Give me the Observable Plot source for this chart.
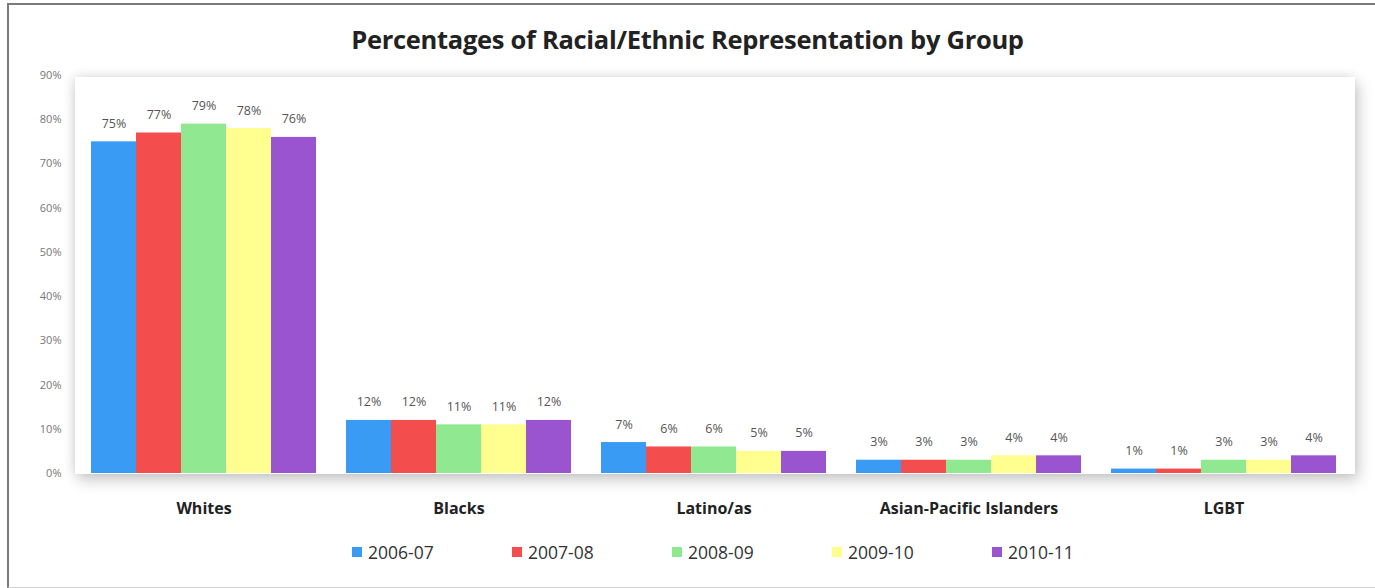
<!DOCTYPE html>
<html>
<head>
<meta charset="utf-8">
<script src="https://cdn.jsdelivr.net/npm/d3@7"></script>
<script src="https://cdn.jsdelivr.net/npm/@observablehq/plot@0.6"></script>
<style>
  html, body { margin: 0; padding: 0; background: #fff; width: 1375px; height: 588px; overflow: hidden; }
  body { position: relative; font-family: 'Open Sans', sans-serif; }
  #frame { position: absolute; left: 7px; top: 3px; width: 1380px; height: 582px;
           border-top: 2px solid #7a7a7a; border-left: 2px solid #7a7a7a; border-bottom: 1px solid #d0d0d0; }
  #panel { position: absolute; left: 75px; top: 77px; width: 1280px; height: 397px; background: #fff;
           box-shadow: 3px 6px 14px rgba(0,0,0,0.22), -2px -2px 10px rgba(0,0,0,0.08); }
  #title { position: absolute; left: 0; top: 22px; width: 1375px; text-align: center;
           font-weight: bold; font-size: 25.5px; line-height: 34px; color: #222; letter-spacing: -0.3px; }
  #chart { position: absolute; left: 0; top: 62px; }
  #legend { position: absolute; left: 352px; top: 540px; display: flex;
            font-size: 17.5px; line-height: 24px; color: #333; }
  .item { display: flex; align-items: center; width: 160px; }
  .sw { width: 10px; height: 10px; margin-right: 6px; }
</style>
</head>
<body>
<div id="frame"></div>
<div id="panel"></div>
<div id="title">Percentages of Racial/Ethnic Representation by Group</div>
<div id="chart"></div>
<div id="legend"></div>
<script>
const groups = ["Whites", "Blacks", "Latino/as", "Asian-Pacific Islanders", "LGBT"];
const years = ["2006-07", "2007-08", "2008-09", "2009-10", "2010-11"];
const colors = ["#3a9bf5", "#f44d4d", "#90e890", "#ffff8f", "#9b54cf"];
const whites = [75, 77, 79, 78, 76];
const blacks = [12, 12, 11, 11, 12];
const latinos = [7, 6, 6, 5, 5];
const asianPacific = [3, 3, 3, 4, 4];
const lgbt = [1, 1, 3, 3, 4];
const yTicks = [0, 10, 20, 30, 40, 50, 60, 70, 80, 90];

const series = [whites, blacks, latinos, asianPacific, lgbt];
const data = [];
groups.forEach((g, i) => years.forEach((y, j) => data.push({group: g, year: y, value: series[i][j]})));

const chart = Plot.plot({
  width: 1375,
  height: 470,
  marginTop: 13,
  marginBottom: 59,
  marginLeft: 75,
  marginRight: 23,
  style: {fontFamily: "'Open Sans', sans-serif", background: "transparent", overflow: "visible"},
  fx: {domain: groups, paddingInner: 0.118, paddingOuter: 0.059, label: null},
  x: {domain: years, padding: 0, axis: null},
  y: {domain: [0, 90], label: null},
  color: {domain: years, range: colors},
  marks: [
    Plot.barY(data, {fx: "group", x: "year", y: "value", fill: "year"}),
    Plot.text(data, {fx: "group", x: "year", y: "value", text: d => d.value + "%", dy: -18, fill: "#555", fontSize: 12.5}),
    Plot.axisY({ticks: yTicks, tickFormat: d => d + "%", tickSize: 0, tickPadding: 30, fontSize: 11, color: "#777", label: null}),
    Plot.axisFx({anchor: "bottom", tickSize: 0, tickPadding: 29, fontSize: 16, fontWeight: "bold", color: "#222", label: null})
  ]
});
document.getElementById("chart").appendChild(chart);

const legend = document.getElementById("legend");
years.forEach((y, i) => {
  const item = document.createElement("div");
  item.className = "item";
  const sw = document.createElement("span");
  sw.className = "sw";
  sw.style.background = colors[i];
  const t = document.createElement("span");
  t.textContent = y;
  item.appendChild(sw);
  item.appendChild(t);
  legend.appendChild(item);
});
</script>
</body>
</html>
